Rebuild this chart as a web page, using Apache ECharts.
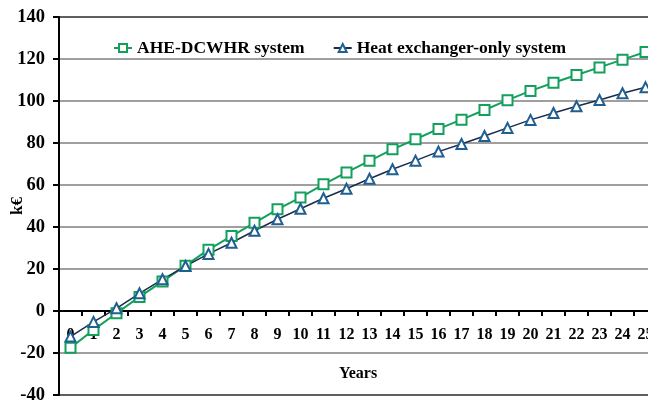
<!DOCTYPE html>
<html lang="en">
<head>
    <meta charset="UTF-8">
    <script src="https://cdn.jsdelivr.net/npm/echarts@6/dist/echarts.min.js"></script>
    <title>cumulative savings</title>
    <style>
        html, body { margin: 0; padding: 0; background: #ffffff; }
        #chart { width: 648px; height: 401px; }
    </style>
</head>
<body>
<div id="chart"></div>

<script>
    const years = ['0', '1', '2', '3', '4', '5', '6', '7', '8', '9', '10', '11', '12',
        '13', '14', '15', '16', '17', '18', '19', '20', '21', '22', '23', '24', '25'];

    const aheDcwhr = [-17.5, -9, -1.1, 6.7, 14.1, 21.6, 29.2, 35.7, 42, 48.4, 54.1, 60.3, 66,
        71.5, 77, 81.8, 86.7, 91.1, 95.7, 100.4, 104.8, 108.7, 112.4, 116, 119.7, 123.3];

    const hxOnly = [-12.2, -5.2, 1.3, 8.4, 15.1, 21.4, 27.2, 32.5, 38.2, 43.7, 48.7, 53.7, 58.2,
        63, 67.5, 71.6, 75.9, 79.5, 83.3, 87.2, 91, 94.3, 97.5, 100.5, 103.7, 106.5];

    const serif = '"Liberation Serif", "DejaVu Serif", serif';

    const chart = echarts.init(document.getElementById('chart'));

    chart.setOption({
        animation: false,
        textStyle: { fontFamily: serif },
        grid: {
            left: 59,
            top: 17,
            width: 598,
            height: 378,
            containLabel: false,
            outerBoundsMode: 'none',
            show: true,
            borderColor: '#000000',
            borderWidth: 2,
        },
        legend: {
            top: 34,
            left: 108,
            itemGap: 28,
            itemWidth: 18,
            itemHeight: 10,
            textStyle: {
                fontFamily: serif,
                fontWeight: 'bold',
                fontSize: 17.5,
                color: '#000000',
            },
        },
        xAxis: {
            type: 'category',
            data: years,
            position: 'bottom',
            offset: -84, // axis sits on the zero line (2.1 px per unit * 40)
            name: 'Years',
            nameLocation: 'middle',
            nameGap: 55,
            nameMoveOverlap: false,
            nameTextStyle: { fontWeight: 'bold', fontSize: 16, color: '#000000' },
            axisLine: { onZero: false, lineStyle: { color: '#000000', width: 2 } },
            axisTick: { show: true, length: 5, lineStyle: { color: '#000000', width: 2 } },
            axisLabel: { fontWeight: 'bold', fontSize: 16, color: '#000000', margin: 16 },
            splitLine: { show: false },
        },
        yAxis: {
            type: 'value',
            min: -40,
            max: 140,
            interval: 20,
            name: 'k€',
            nameLocation: 'middle',
            nameRotate: 90,
            nameGap: 33,
            nameMoveOverlap: false,
            nameTextStyle: { fontWeight: 'bold', fontSize: 17, color: '#000000' },
            axisLine: { show: true, lineStyle: { color: '#000000', width: 2 } },
            axisTick: { show: true, length: 6, lineStyle: { color: '#000000', width: 2 } },
            axisLabel: { fontWeight: 'bold', fontSize: 18.5, color: '#000000', margin: 14 },
            splitLine: { show: true, lineStyle: { color: '#7f7f7f', width: 1.5 } },
        },
        series: [
            {
                name: 'AHE-DCWHR system',
                type: 'line',
                data: aheDcwhr,
                symbol: 'emptyRect',
                symbolSize: 10,
                lineStyle: { color: '#12a05c', width: 2 },
                itemStyle: { color: '#12a05c', borderWidth: 1.5 },
            },
            {
                name: 'Heat exchanger-only system',
                type: 'line',
                data: hxOnly,
                symbol: 'emptyTriangle',
                symbolSize: 10,
                lineStyle: { color: '#1b2b4b', width: 1.5 },
                itemStyle: { color: '#1f5f92', borderWidth: 1.5 },
            },
        ],
    });
</script>

</body>
</html>
